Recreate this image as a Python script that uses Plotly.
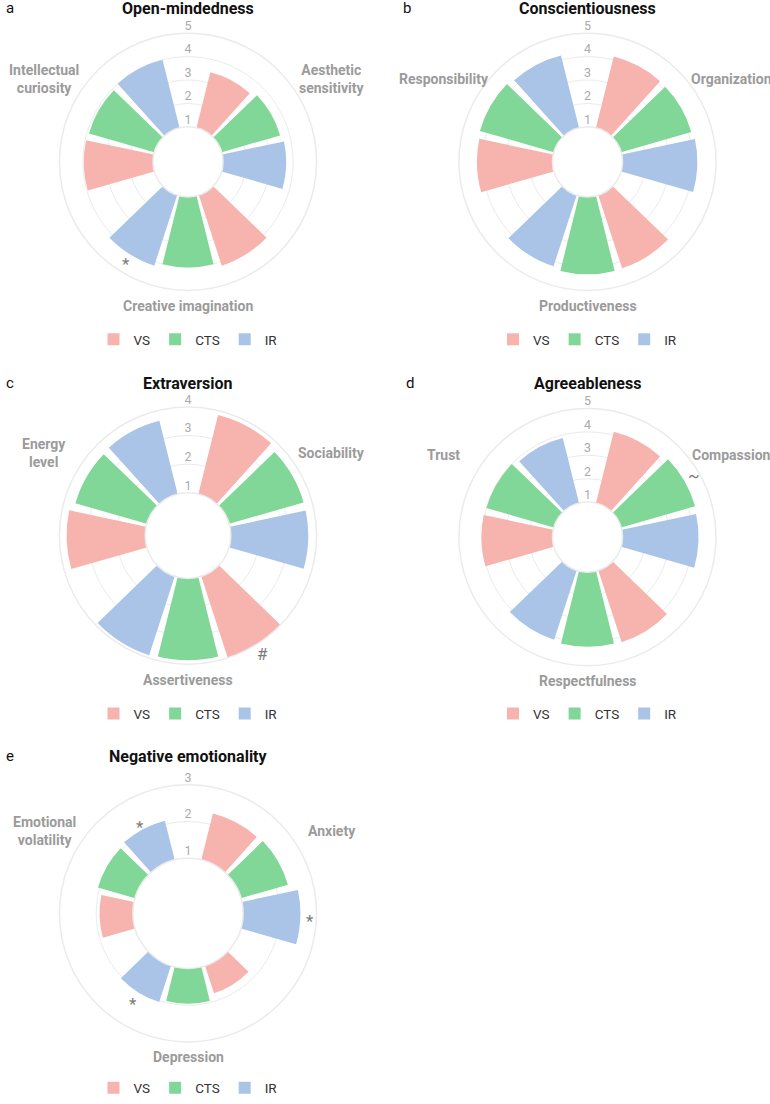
import math
import plotly.graph_objects as go

W, H = 770, 1104

groups = ["VS", "CTS", "IR"]
group_colors = ["#F7B3AE", "#80D797", "#A9C4E7"]

# a  Open-mindedness
open_facets = ["Aesthetic<br>sensitivity", "Creative imagination", "Intellectual<br>curiosity"]
open_VS = [3.45, 4.17, 3.96]
open_CTS = [3.60, 4.02, 3.91]
open_IR = [3.70, 4.17, 4.00]
open_ticks = [1, 2, 3, 4, 5]
open_sig = [(1, 2, "*", 0.33)]

# b  Conscientiousness
cons_facets = ["Organization", "Productiveness", "Responsibility"]
cons_VS = [4.14, 4.29, 4.23]
cons_CTS = [4.12, 4.31, 4.29]
cons_IR = [4.20, 4.20, 4.19]
cons_ticks = [1, 2, 3, 4, 5]
cons_sig = []

# c  Extraversion
extr_facets = ["Sociability", "Assertiveness", "Energy<br>level"]
extr_VS = [3.85, 4.02, 3.75]
extr_CTS = [3.71, 3.86, 3.60]
extr_IR = [3.71, 3.90, 3.64]
extr_ticks = [1, 2, 3, 4]
extr_sig = [(1, 0, "#", 0.37)]

# d  Agreeableness
agre_facets = ["Compassion", "Respectfulness", "Trust"]
agre_VS = [4.14, 4.23, 4.04]
agre_CTS = [4.29, 4.19, 4.00]
agre_IR = [4.25, 4.12, 3.87]
agre_ticks = [1, 2, 3, 4, 5]
agre_sig = [(0, 1, "~", 0.45)]

# e  Negative emotionality
nege_facets = ["Anxiety", "Depression", "Emotional<br>volatility"]
nege_VS = [2.30, 1.79, 1.91]
nege_CTS = [2.33, 1.96, 2.05]
nege_IR = [2.56, 2.04, 2.10]
nege_ticks = [1, 2, 3]
nege_sig = [(0, 2, "*", 0.23), (1, 2, "*", 0.27), (2, 2, "*", 0.16)]

panels = [
    dict(letter="a", title="Open-mindedness", facets=open_facets,
         values=[open_VS, open_CTS, open_IR], ticks=open_ticks, sig=open_sig,
         cx=188, cy=163, letter_x=4, title_y=8.5, legend_y=342),
    dict(letter="b", title="Conscientiousness", facets=cons_facets,
         values=[cons_VS, cons_CTS, cons_IR], ticks=cons_ticks, sig=cons_sig,
         cx=587.5, cy=163, letter_x=401, title_y=8.5, legend_y=342),
    dict(letter="c", title="Extraversion", facets=extr_facets,
         values=[extr_VS, extr_CTS, extr_IR], ticks=extr_ticks, sig=extr_sig,
         cx=188, cy=539.5, letter_x=4, title_y=386, legend_y=719),
    dict(letter="d", title="Agreeableness", facets=agre_facets,
         values=[agre_VS, agre_CTS, agre_IR], ticks=agre_ticks, sig=agre_sig,
         cx=587.5, cy=541, letter_x=404, title_y=386, legend_y=719),
    dict(letter="e", title="Negative emotionality", facets=nege_facets,
         values=[nege_VS, nege_CTS, nege_IR], ticks=nege_ticks, sig=nege_sig,
         cx=188, cy=920, letter_x=4, title_y=762, legend_y=1096),
]

facet_theta = [60, 180, 300]
bar_offsets = [-32, 0, 32]
bar_width = 28
R = 129.5
axis_floor = -0.5
side_label_r = 166   # px from centre for the 60/300 degree facet labels
bottom_label_r = 145  # px from centre for the 180 degree facet label
FONT = "Roboto, Arial, sans-serif"


def polar_px(p, theta_deg, r_px):
    """Pixel position (paper fraction) of a point in panel p's polar frame."""
    t = math.radians(theta_deg)
    x = p["cx"] + r_px * math.sin(t)
    y = p["cy"] - r_px * math.cos(t)
    return x / W, 1 - y / H


def value_to_px(p, v):
    rmax = max(p["ticks"])
    return R * (v - axis_floor) / (rmax - axis_floor)


fig = go.Figure()
annotations = []
layout = {}

for i, p in enumerate(panels):
    sub = "polar" if i == 0 else f"polar{i + 1}"
    leg = "legend" if i == 0 else f"legend{i + 1}"
    for g_i, g in enumerate(groups):
        vals = p["values"][g_i]
        thetas = [facet_theta[f] + bar_offsets[g_i] for f in range(3)]
        fig.add_trace(go.Barpolar(
            r=vals, theta=thetas, width=[bar_width] * 3, name=g,
            marker=dict(color=group_colors[g_i], line=dict(width=0)),
            subplot=sub, legend=leg, hoverinfo="name+r",
        ))
    # radial tick labels along the top
    fig.add_trace(go.Scatterpolar(
        r=p["ticks"], theta=[0] * len(p["ticks"]), mode="text",
        text=[str(t) for t in p["ticks"]], textposition="top center",
        textfont=dict(size=12.5, color="#ABABAB", family=FONT),
        cliponaxis=False, showlegend=False, hoverinfo="skip", subplot=sub,
    ))
    # significance marks (may lie beyond the outer circle)
    for f, g, s, pad in p["sig"]:
        th = facet_theta[f] + bar_offsets[g]
        x, y = polar_px(p, th, value_to_px(p, p["values"][g][f] + pad))
        annotations.append(dict(
            text=s, x=x, y=y, xref="paper", yref="paper",
            xanchor="center", yanchor="middle", showarrow=False,
            yshift=-3 if s == "*" else 0,
            font=dict(size=17, color="#7A7A7A", family=FONT),
        ))
    # facet labels around the circle
    for f, name in enumerate(p["facets"]):
        th = facet_theta[f]
        rr = bottom_label_r if th == 180 else side_label_r
        x, y = polar_px(p, th, rr)
        annotations.append(dict(
            text=f"<b>{name}</b>", x=x, y=y, xref="paper", yref="paper",
            xanchor="center", yanchor="middle", showarrow=False, align="center",
            font=dict(size=14, color="#9B9B9B", family=FONT),
        ))

    rmax = max(p["ticks"])
    hole = (1 - axis_floor) / (rmax - axis_floor)
    x0, x1 = (p["cx"] - R) / W, (p["cx"] + R) / W
    y0, y1 = 1 - (p["cy"] + R) / H, 1 - (p["cy"] - R) / H
    layout[sub] = dict(
        domain=dict(x=[x0, x1], y=[y0, y1]),
        hole=hole,
        bgcolor="white",
        radialaxis=dict(range=[1, rmax], tickvals=p["ticks"], showticklabels=False,
                        ticks="", showline=False, gridcolor="#EBEBEB", gridwidth=1.2),
        angularaxis=dict(type="linear", thetaunit="degrees", rotation=90,
                         direction="clockwise", tickmode="array",
                         tickvals=facet_theta, showticklabels=False,
                         showgrid=False, ticks="", showline=True,
                         linecolor="#EBEBEB", linewidth=1.5),
    )
    layout[leg] = dict(
        orientation="h", x=p["cx"] / W, xanchor="center",
        y=1 - p["legend_y"] / H, yanchor="middle",
        font=dict(size=13.5, color="#333333", family=FONT),
        bgcolor="rgba(0,0,0,0)", itemwidth=30, traceorder="normal",
    )
    annotations.append(dict(
        text=f"<b>{p['title']}</b>", x=p["cx"] / W, y=1 - p["title_y"] / H,
        xref="paper", yref="paper", xanchor="center", yanchor="middle",
        showarrow=False, font=dict(size=16, color="#111111", family=FONT),
    ))
    annotations.append(dict(
        text=p["letter"], x=p["letter_x"] / W, y=1 - p["title_y"] / H,
        xref="paper", yref="paper", xanchor="left", yanchor="middle",
        showarrow=False, font=dict(size=15, color="#111111", family=FONT),
    ))

fig.update_layout(
    width=W, height=H,
    margin=dict(l=0, r=0, t=0, b=0),
    paper_bgcolor="white",
    font=dict(family=FONT),
    annotations=annotations,
    **layout,
)

fig.write_html("out.html")
